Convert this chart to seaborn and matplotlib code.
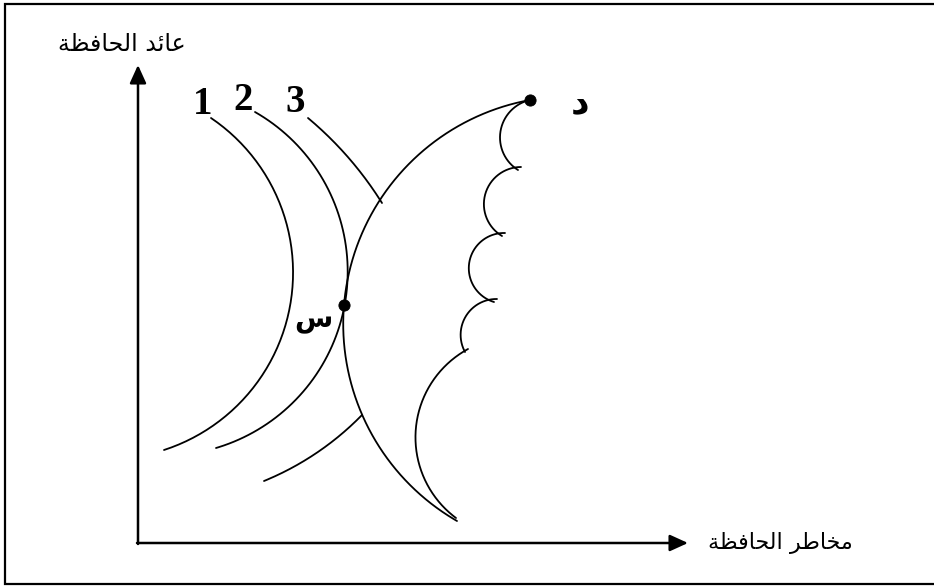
import numpy as np
import pandas as pd
import matplotlib
matplotlib.use("Agg")
import matplotlib.pyplot as plt
import seaborn as sns

# ---- data (diagram anchor points, pixel space) ----
# each curve: start point, a point on the arc, end point
CURVE1 = [(211, 118), (293, 277), (164, 450)]
CURVE2 = [(255, 112), (345, 303), (216, 448)]
CURVE3_UPPER = [(308, 118), (353, 163), (382, 203)]
CURVE3_LOWER = [(362, 415), (325, 447), (264, 481)]
FRONTIER = [(530, 100), (344, 305), (457, 521)]
SCALLOPS = [
    [(530, 100), (500, 138), (518, 170)],
    [(521, 167), (484, 207), (502, 236)],
    [(505, 233), (469, 272), (494, 302)],
    [(497, 299), (462, 325), (465, 352)],
    [(468, 349), (416, 427), (456, 518)],
]
CURVE_LABELS = ["1", "2", "3"]
LABEL_POS = [(203, 104), (243, 101), (295, 102)]
POINTS = [(530, 100), (344, 305)]
POINT_NAMES = ["\uFEA9", "\uFEB1"]          # د , س
POINT_LABEL_POS = [(580, 103), (313, 320)]
Y_TITLE = "\uFE94\uFEC8\uFED3\uFE8E\uFEA4\uFEDF\uFE8D \uFEAA\uFE8B\uFE8E\uFECB"   # عائد الحافظة
X_TITLE = "\uFE94\uFEC8\uFED3\uFE8E\uFEA4\uFEDF\uFE8D \uFEAE\uFEC3\uFE8E\uFEA8\uFEE3"  # مخاطر الحافظة
ORIGIN = (138, 543)
Y_TIP = (138, 65)
X_TIP = (688, 543)


def arc_through(p0, p1, p2, n=160):
    (x1, y1), (x2, y2), (x3, y3) = p0, p1, p2
    d = 2 * (x1 * (y2 - y3) + x2 * (y3 - y1) + x3 * (y1 - y2))
    ux = ((x1**2 + y1**2) * (y2 - y3) + (x2**2 + y2**2) * (y3 - y1) + (x3**2 + y3**2) * (y1 - y2)) / d
    uy = ((x1**2 + y1**2) * (x3 - x2) + (x2**2 + y2**2) * (x1 - x3) + (x3**2 + y3**2) * (x2 - x1)) / d
    r = np.hypot(x1 - ux, y1 - uy)
    a0 = np.arctan2(y1 - uy, x1 - ux)
    a1 = np.arctan2(y2 - uy, x2 - ux)
    a2 = np.arctan2(y3 - uy, x3 - ux)
    tau = 2 * np.pi
    delta = (a2 - a0) % tau
    if (a1 - a0) % tau > delta:
        delta = delta - tau
    t = a0 + np.linspace(0, 1, n) * delta
    return pd.DataFrame({"x": ux + r * np.cos(t), "y": uy + r * np.sin(t), "o": np.arange(n)})


sns.set_theme(style="white")
plt.rcParams["font.family"] = ["DejaVu Sans"]
plt.rcParams["text.color"] = "black"

fig = plt.figure(figsize=(9.34, 5.88), dpi=100)
ax = fig.add_axes([0, 0, 1, 1])
ax.set_xlim(0, 934)
ax.set_ylim(588, 0)
ax.axis("off")

# frame (right edge is cut off in the picture)
ax.plot([940, 5, 5, 940], [4, 4, 584, 584], color="black", lw=1.6, solid_joinstyle="miter")

curves = [CURVE1, CURVE2, CURVE3_UPPER, CURVE3_LOWER, FRONTIER] + SCALLOPS
for c in curves:
    df = arc_through(*c)
    sns.lineplot(data=df, x="x", y="y", sort=False, estimator=None, color="black", lw=1.3, ax=ax)

# axes with arrowheads
arrow_kw = dict(arrowstyle="-|>,head_length=1.1,head_width=0.5", mutation_scale=10,
                color="black", lw=1.8, shrinkA=0, shrinkB=0)
ax.annotate("", xy=Y_TIP, xytext=(ORIGIN[0], ORIGIN[1] + 1), arrowprops=arrow_kw)
ax.annotate("", xy=X_TIP, xytext=(ORIGIN[0] - 1, ORIGIN[1]), arrowprops=arrow_kw)

# points
pts = pd.DataFrame({"x": [p[0] for p in POINTS], "y": [p[1] for p in POINTS]})
sns.scatterplot(data=pts, x="x", y="y", color="black", s=65, edgecolor="black", ax=ax, zorder=5)

for name, (lx, ly), fs in zip(POINT_NAMES, POINT_LABEL_POS, [26, 20]):
    ax.text(lx, ly, name, fontsize=fs, fontweight="bold", ha="center", va="center",
            color="black", family=["DejaVu Sans"])

for lab, (lx, ly) in zip(CURVE_LABELS, LABEL_POS):
    ax.text(lx, ly, lab, fontsize=28, fontweight="bold", ha="center", va="center",
            color="black", family=["Liberation Serif"])

ax.text(122, 44, Y_TITLE, fontsize=17, ha="center", va="center", color="black",
        family=["DejaVu Sans"])
ax.text(780, 543, X_TITLE, fontsize=16, ha="center", va="center", color="black",
        family=["DejaVu Sans"])

ax.set_xlabel("")
ax.set_ylabel("")
fig.savefig("out.png", dpi=100)
